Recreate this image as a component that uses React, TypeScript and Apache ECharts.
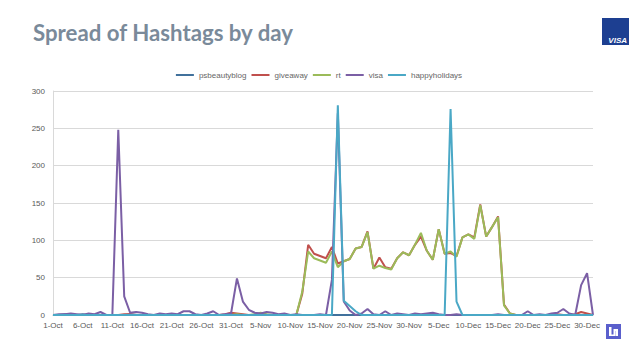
import React, { useEffect, useRef } from "react";
import * as echarts from "echarts";

const monthSpecs: [string, number][] = [["Oct", 31], ["Nov", 30], ["Dec", 31]];
const dayLabels: string[] = monthSpecs.flatMap(([m, n]) =>
  Array.from({ length: n }, (_, i) => `${i + 1}-${m}`)
);

const seriesNames = ["psbeautyblog", "giveaway", "rt", "visa", "happyholidays"];
const seriesColors = ["#41719c", "#c0504d", "#9bbb59", "#7b5fa5", "#4aa8c6"];

const psbeautyblog = [
  0, 0, 1, 0, 0, 1, 0, 0, 0, 0,
  0, 0, 0, 1, 0, 0, 0, 0, 0, 0,
  0, 0, 0, 0, 0, 0, 0, 0, 0, 0,
  0, 0, 0, 0, 0, 0, 0, 0, 0, 0,
  0, 0, 0, 0, 0, 0, 0, 0, 0, 0,
  0, 0, 0, 0, 0, 0, 0, 0, 0, 0,
  0, 0, 0, 0, 0, 0, 0, 0, 0, 0,
  0, 0, 0, 0, 0, 0, 0, 0, 0, 0,
  0, 0, 0, 0, 0, 0, 0, 0, 0, 0,
  0, 0,
];
const giveaway = [
  0, 0, 0, 0, 0, 0, 0, 0, 0, 0,
  0, 0, 1, 1, 0, 0, 0, 0, 0, 0,
  0, 0, 0, 0, 0, 0, 0, 0, 0, 1,
  3, 2, 1, 0, 0, 1, 0, 0, 0, 0,
  0, 0, 28, 94, 82, 79, 76, 91, 69, 72,
  75, 89, 91, 112, 62, 77, 64, 62, 76, 84,
  80, 94, 105, 86, 74, 115, 82, 83, 79, 104,
  108, 104, 148, 105, 118, 132, 14, 2, 0, 0,
  0, 0, 0, 0, 0, 1, 0, 0, 1, 4,
  2, 0,
];
const rt = [
  0, 0, 0, 0, 0, 0, 0, 0, 0, 0,
  0, 0, 0, 0, 0, 0, 0, 0, 0, 0,
  0, 0, 0, 0, 0, 0, 0, 0, 0, 0,
  0, 1, 0, 0, 1, 3, 1, 0, 0, 0,
  0, 0, 31, 85, 76, 73, 70, 85, 64, 72,
  75, 89, 91, 111, 62, 66, 63, 61, 76, 84,
  80, 94, 110, 86, 74, 115, 82, 85, 78, 104,
  108, 102, 147, 105, 118, 131, 13, 2, 0, 0,
  0, 0, 0, 0, 0, 0, 0, 0, 0, 0,
  0, 0,
];
const visa = [
  0, 1, 1, 2, 1, 0, 2, 1, 4, 0,
  0, 248, 25, 3, 4, 3, 1, 0, 2, 1,
  2, 1, 5, 5, 1, 0, 2, 5, 0, 1,
  2, 49, 18, 7, 3, 2, 4, 3, 1, 2,
  0, 1, 0, 0, 0, 1, 0, 47, 270, 18,
  6, 0, 2, 8, 1, 0, 5, 0, 2, 1,
  0, 2, 1, 2, 3, 1, 0, 0, 1, 0,
  0, 0, 0, 0, 0, 1, 0, 0, 0, 0,
  5, 0, 1, 0, 2, 3, 8, 2, 0, 40,
  56, 0,
];
const happyholidays = [
  0, 0, 0, 0, 0, 0, 0, 0, 0, 0,
  0, 0, 0, 0, 0, 0, 0, 0, 0, 0,
  0, 0, 0, 0, 0, 0, 0, 0, 0, 0,
  0, 0, 0, 0, 0, 0, 0, 0, 0, 0,
  0, 0, 0, 0, 0, 0, 0, 0, 281, 19,
  12, 5, 0, 0, 0, 0, 0, 0, 0, 0,
  0, 0, 0, 0, 0, 0, 0, 276, 18, 0,
  0, 0, 0, 0, 0, 0, 0, 0, 0, 0,
  0, 0, 0, 0, 0, 0, 0, 0, 0, 0,
  0, 0,
];
const seriesValues = [psbeautyblog, giveaway, rt, visa, happyholidays];

const titleText = "Spread of Hashtags by day";
const titleFont = "bold 22px Lato";

function measure(font: string, text: string): number {
  const c = document.createElement("canvas");
  const ctx = c.getContext("2d");
  if (!ctx) return 0;
  ctx.font = font;
  return ctx.measureText(text).width;
}

export default function App() {
  const ref = useRef<HTMLDivElement>(null);
  useEffect(() => {
    if (!ref.current) return;
    echarts.graphic.registerShape(
      "inlogo",
      echarts.graphic.extendPath(
        "M3 3 H5.5 V10.5 H7.5 V5 H12 V12 H9.8 V7 H9.5 V12 H3 Z",
        {}
      )
    );
    const chart = echarts.init(ref.current, null, { renderer: "svg" });
    const w = measure(titleFont, titleText);
    const sx = w > 0 ? 261 / w : 1;
    chart.setOption({
      animation: false,
      backgroundColor: "#ffffff",
      textStyle: { fontFamily: "Liberation Sans, Arial, sans-serif" },
      legend: {
        top: 66,
        left: "center",
        icon: "rect",
        itemWidth: 18,
        itemHeight: 2,
        itemGap: 5,
        textStyle: { fontSize: 8, color: "#666666", fontFamily: "Liberation Sans, Arial, sans-serif" },
        data: seriesNames,
      },
      grid: { left: 53, top: 91, width: 540, height: 224, containLabel: false },
      xAxis: {
        type: "category",
        data: dayLabels,
        boundaryGap: false,
        axisLine: { lineStyle: { color: "#bfbfbf", width: 1 } },
        axisTick: { show: false },
        axisLabel: { interval: 4, fontSize: 8, color: "#595959", margin: 6 },
        splitLine: { show: false },
      },
      yAxis: {
        type: "value",
        min: 0,
        max: 300,
        interval: 50,
        axisLine: { show: true, lineStyle: { color: "#d9d9d9" } },
        axisTick: { show: false },
        axisLabel: { fontSize: 8, color: "#595959", margin: 8 },
        splitLine: { lineStyle: { color: "#d9d9d9", width: 1 } },
      },
      series: seriesNames.map((name, i) => ({
        name,
        type: "line",
        data: seriesValues[i],
        showSymbol: false,
        symbol: "none",
        color: seriesColors[i],
        lineStyle: { width: 2, color: seriesColors[i] },
        silent: true,
      })),
      graphic: [
        {
          type: "text",
          x: 33,
          y: 33,
          scaleX: sx,
          style: {
            text: titleText,
            font: titleFont,
            fill: "#7a8a9a",
            textAlign: "left",
            textVerticalAlign: "middle",
          },
        },
        {
          type: "rect",
          shape: { x: 602, y: 18, width: 27, height: 27 },
          style: { fill: "#1d3f91" },
        },
        {
          type: "text",
          x: 627,
          y: 40,
          style: {
            text: "VISA",
            font: "italic bold 8px Liberation Sans",
            fill: "#ffffff",
            textAlign: "right",
            textVerticalAlign: "middle",
          },
        },
        {
          type: "rect",
          shape: { x: 606, y: 324, width: 15, height: 15 },
          style: { fill: "#5a5fcc" },
        },
        {
          type: "inlogo",
          x: 606,
          y: 324,
          scaleX: 1,
          scaleY: 1,
          style: { fill: "#ffffff" },
        },
      ],
    });
    return () => chart.dispose();
  }, []);
  return (
    <div
      ref={ref}
      style={{ position: "fixed", left: 0, top: 0, width: 638, height: 359 }}
    />
  );
}
